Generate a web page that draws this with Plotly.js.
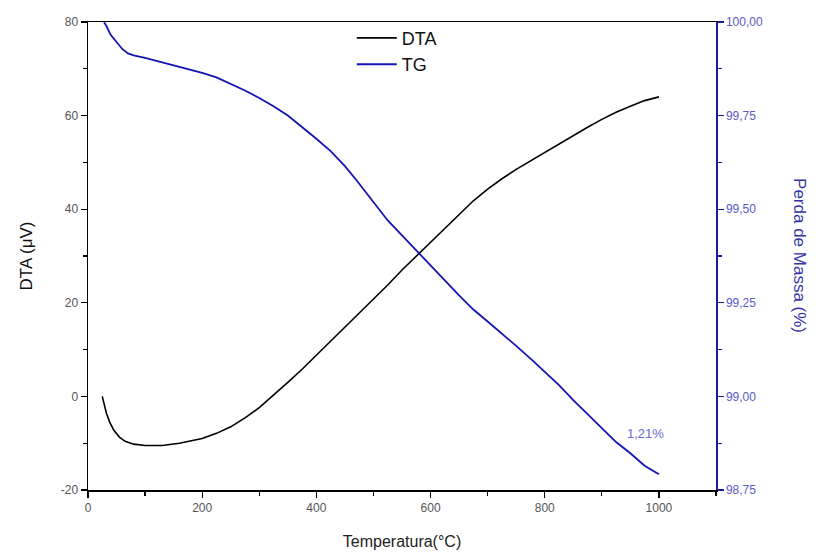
<!DOCTYPE html>
<html>
<head>
<meta charset="utf-8">
<script src="https://cdn.plot.ly/plotly-3.0.1.min.js"></script>
<style>html,body{margin:0;padding:0;background:#fff}#chart{width:819px;height:557px}</style>
</head>
<body>
<div id="chart"></div>
<script>
// DTA curve (black), left axis
const dtaTemp = [25, 28, 32, 38, 45, 55, 65, 80, 100, 130, 160, 200, 225, 250, 275, 300, 325, 350, 375, 400, 425, 450, 475, 500, 525, 550, 575, 600, 625, 650, 675, 700, 725, 750, 775, 800, 825, 850, 875, 900, 925, 950, 975, 1000];
const dtaValues = [0, -1.5, -3.5, -5.5, -7.2, -8.7, -9.6, -10.2, -10.5, -10.5, -10.0, -9.0, -7.9, -6.5, -4.6, -2.4, 0.2, 3.0, 5.8, 8.8, 11.7, 14.7, 17.7, 20.8, 23.8, 27.0, 30.0, 32.8, 35.8, 38.8, 41.8, 44.3, 46.5, 48.5, 50.3, 52.2, 54.0, 55.8, 57.5, 59.2, 60.7, 62.0, 63.2, 64.0];

// TG curve (blue), right axis
const tgTemp = [28, 32, 40, 50, 60, 70, 80, 100, 126, 150, 175, 200, 225, 250, 275, 300, 325, 350, 375, 400, 425, 450, 470, 500, 525, 550, 580, 600, 625, 650, 675, 700, 725, 750, 778, 800, 825, 850, 875, 900, 925, 950, 975, 1000];
const tgValues = [100.0, 99.99, 99.965, 99.945, 99.928, 99.916, 99.911, 99.904, 99.894, 99.885, 99.875, 99.864, 99.852, 99.835, 99.817, 99.797, 99.775, 99.75, 99.72, 99.688, 99.655, 99.615, 99.578, 99.52, 99.47, 99.43, 99.383, 99.35, 99.31, 99.27, 99.232, 99.2, 99.168, 99.135, 99.097, 99.065, 99.03, 98.99, 98.952, 98.915, 98.878, 98.848, 98.815, 98.792];

const xTickVals = [0, 200, 400, 600, 800, 1000];
const xTickText = ["0", "200", "400", "600", "800", "1000"];
const yTickVals = [-20, 0, 20, 40, 60, 80];
const yTickText = ["-20", "0", "20", "40", "60", "80"];
const y2TickVals = [98.75, 99.0, 99.25, 99.5, 99.75, 100.0];
const y2TickText = ["98,75", "99,00", "99,25", "99,50", "99,75", "100,00"];

const seriesNames = ["DTA", "TG"];
const annotText = "1,21%";

const FONT = "Liberation Sans, Arial, sans-serif";

const traces = [
  {x: dtaTemp, y: dtaValues, name: seriesNames[0], type: "scatter", mode: "lines",
   line: {color: "#000000", width: 1.6}, yaxis: "y"},
  {x: tgTemp, y: tgValues, name: seriesNames[1], type: "scatter", mode: "lines",
   line: {color: "#1414b4", width: 1.8}, yaxis: "y2"}
];

const layout = {
  width: 819, height: 557,
  margin: {l: 88, r: 103, t: 22, b: 67},
  paper_bgcolor: "#ffffff", plot_bgcolor: "#ffffff",
  font: {family: FONT},
  showlegend: true,
  legend: {x: 0.42, y: 1.005, xanchor: "left", yanchor: "top", bgcolor: "rgba(0,0,0,0)",
           font: {size: 18, color: "#111", family: FONT}, tracegroupgap: 0, itemwidth: 40},
  xaxis: {
    range: [0, 1100], tickmode: "array", tickvals: xTickVals, ticktext: xTickText,
    ticks: "outside", ticklen: 6, tickcolor: "#000", tickwidth: 1.3,
    minor: {dtick: 100, tick0: 0, ticks: "outside", ticklen: 4, tickcolor: "#000", showgrid: false},
    showline: true, linecolor: "#000", linewidth: 1.5, mirror: true,
    showgrid: false, zeroline: false,
    tickfont: {size: 12, color: "#555", family: FONT},
    title: {text: "Temperatura(°C)", font: {size: 16, color: "#222", family: FONT}, standoff: 22}
  },
  yaxis: {
    range: [-20, 80], tickmode: "array", tickvals: yTickVals, ticktext: yTickText,
    ticks: "outside", ticklen: 6, tickcolor: "#000", tickwidth: 1.3,
    minor: {dtick: 10, tick0: 0, ticks: "outside", ticklen: 4, tickcolor: "#000", showgrid: false},
    showline: true, linecolor: "#000", linewidth: 1.5,
    showgrid: false, zeroline: false,
    tickfont: {size: 12, color: "#555", family: FONT},
    title: {text: "DTA (μV)", font: {size: 17, color: "#111", family: FONT}, standoff: 24}
  },
  yaxis2: {
    overlaying: "y", side: "right",
    range: [98.75, 100.0], tickmode: "array", tickvals: y2TickVals, ticktext: y2TickText,
    ticks: "outside", ticklen: 6, tickcolor: "#1a1aa0", tickwidth: 1.3,
    minor: {dtick: 0.125, tick0: 98.75, ticks: "outside", ticklen: 4, tickcolor: "#1a1aa0", showgrid: false},
    showline: true, linecolor: "#1a1aa0", linewidth: 1.5,
    showgrid: false, zeroline: false,
    tickfont: {size: 12, color: "#5a5acc", family: FONT}
  },
  annotations: [
    {xref: "paper", yref: "paper", x: 1.152, y: 0.5, text: "Perda de Massa (%)",
     textangle: 90, showarrow: false, font: {size: 17, color: "#3434a8", family: FONT}},
    {xref: "x", yref: "y2", x: 977, y: 98.902, text: annotText, showarrow: false,
     font: {size: 13, color: "#6a6ad0", family: FONT}}
  ]
};

Plotly.newPlot("chart", traces, layout, {displayModeBar: false, staticPlot: true});
</script>
</body>
</html>
